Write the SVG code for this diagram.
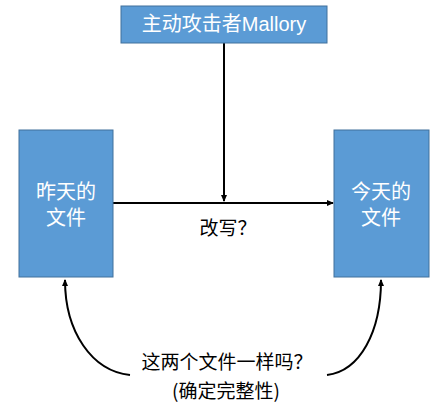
<svg xmlns="http://www.w3.org/2000/svg" width="437" height="406" viewBox="0 0 437 406">
<style>
.box{fill:#5b9bd5;stroke:#41719c;stroke-width:1}
.wt{fill:#ffffff;font-family:"Liberation Sans","Noto Sans CJK SC",sans-serif;font-size:20px;text-anchor:middle}
.bt{fill:#000000;font-family:"Noto Sans CJK SC",sans-serif;font-size:19px;text-anchor:middle}
.ln{fill:none;stroke:#000000;stroke-width:2}
</style>
<defs>
<marker id="ah" markerWidth="8" markerHeight="8" refX="6" refY="4" orient="auto" markerUnits="userSpaceOnUse">
<path d="M0,1 L7,4 L0,7 Z" fill="#000"/>
</marker>
</defs>
<rect width="437" height="406" fill="#ffffff"/>
<g id="connectors">
<line class="ln" x1="224" y1="43" x2="224" y2="201" marker-end="url(#ah)"/>
<line class="ln" x1="113" y1="203" x2="333" y2="203" marker-end="url(#ah)"/>
<path class="ln" d="M130,375 C92,371 65,332 65,280" marker-end="url(#ah)"/>
<path class="ln" d="M327,375 C360,371 381,332 381,280" marker-end="url(#ah)"/>
</g>
<g id="mallory">
<rect class="box" x="121" y="6" width="206" height="37"/>
<text class="wt" x="224" y="31">主动攻击者Mallory</text>
</g>
<g id="yesterday">
<rect class="box" x="19" y="130" width="94" height="147"/>
<text class="wt" x="66" y="199">昨天的</text>
<text class="wt" x="66" y="225">文件</text>
</g>
<g id="today">
<rect class="box" x="334" y="130" width="95" height="147"/>
<text class="wt" x="381" y="199">今天的</text>
<text class="wt" x="381" y="225">文件</text>
</g>
<g id="labels">
<text class="bt" x="228" y="235">改写？</text>
<text class="bt" x="227" y="369">这两个文件一样吗？</text>
<text class="bt" x="226" y="398">(确定完整性)</text>
</g>
</svg>
